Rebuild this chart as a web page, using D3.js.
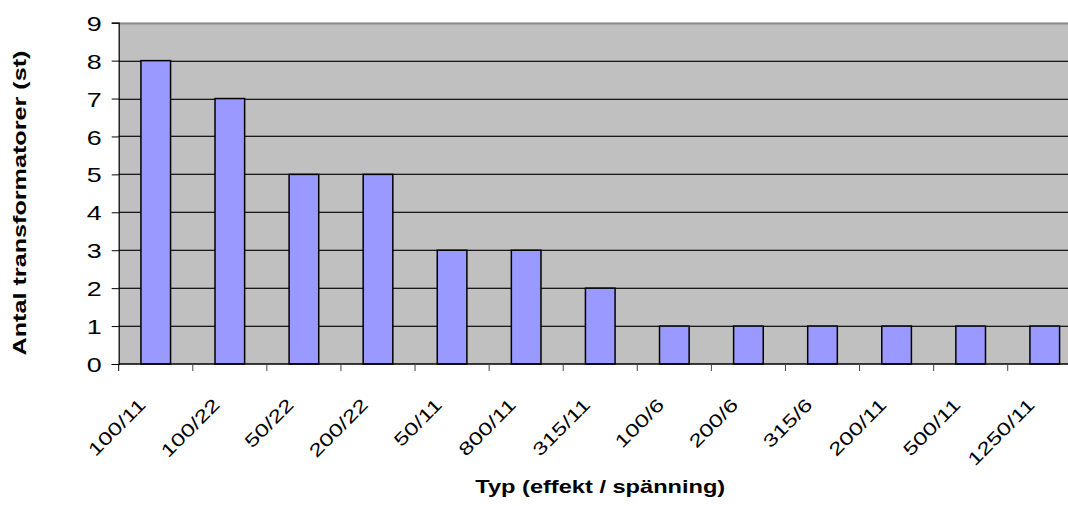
<!DOCTYPE html>
<html>
<head>
<meta charset="utf-8">
<script src="https://cdn.jsdelivr.net/npm/d3@7"></script>
<style>
  html, body { margin: 0; padding: 0; background: #fff; overflow: hidden; }
  svg { display: block; font-family: "Liberation Sans", Arial, sans-serif; }
</style>
</head>
<body>
<svg id="chart" width="1068" height="506"></svg>
<script>
// Transformer types (power kVA / voltage kV) and how many of each
const categories = ["100/11", "100/22", "50/22", "200/22", "50/11", "800/11", "315/11",
                    "100/6", "200/6", "315/6", "200/11", "500/11", "1250/11"];
const counts = [8, 7, 5, 5, 3, 3, 2, 1, 1, 1, 1, 1, 1];
const yTicks = [0, 1, 2, 3, 4, 5, 6, 7, 8, 9];
const xTitle = "Typ (effekt / spänning)";
const yTitle = "Antal transformatorer (st)";

// Text in this chart is set in a horizontally widened face
const WIDE = 1.35;

const svg = d3.select("#chart");
const plot = { left: 118.7, top: 22.7, right: 1081.8, bottom: 364 };

const x = d3.scaleBand()
  .domain(categories)
  .range([plot.left, plot.right])
  .paddingInner(0.6)
  .paddingOuter(0.3);

const y = d3.scaleLinear()
  .domain([0, 9])
  .range([plot.bottom, plot.top]);

// Plot background
svg.append("rect")
  .attr("x", plot.left)
  .attr("y", plot.top)
  .attr("width", plot.right - plot.left)
  .attr("height", plot.bottom - plot.top)
  .attr("fill", "#c0c0c0");

// Horizontal gridlines
const grid = svg.append("g");
grid.selectAll("line.shade")
  .data(yTicks.filter(d => d > 0 && d < 9))
  .join("line")
  .attr("class", "shade")
  .attr("x1", plot.left).attr("x2", plot.right)
  .attr("y1", d => Math.round(y(d)) - 0.5)
  .attr("y2", d => Math.round(y(d)) - 0.5)
  .attr("stroke", "#8a8a8a").attr("stroke-width", 1);
grid.selectAll("line.major")
  .data(yTicks.filter(d => d > 0 && d < 9))
  .join("line")
  .attr("class", "major")
  .attr("x1", plot.left).attr("x2", plot.right)
  .attr("y1", d => Math.round(y(d)) + 0.5)
  .attr("y2", d => Math.round(y(d)) + 0.5)
  .attr("stroke", "#1a1a1a").attr("stroke-width", 1);

// Top border of plot area
svg.append("line")
  .attr("x1", plot.left).attr("x2", plot.right)
  .attr("y1", Math.round(y(9)) + 0.5).attr("y2", Math.round(y(9)) + 0.5)
  .attr("stroke", "#8a8a8a")
  .attr("stroke-width", 2);

// Bars
svg.append("g")
  .selectAll("rect")
  .data(categories.map((c, i) => ({ c, v: counts[i] })))
  .join("rect")
  .attr("x", d => x(d.c))
  .attr("y", d => y(d.v))
  .attr("width", x.bandwidth())
  .attr("height", d => y(0) - y(d.v))
  .attr("fill", "#9999ff")
  .attr("stroke", "#000")
  .attr("stroke-width", 1.5);

// Y axis
const yAxis = d3.axisLeft(y)
  .tickValues(yTicks)
  .tickFormat(d3.format("d"))
  .tickSize(7)
  .tickPadding(8);

const gy = svg.append("g")
  .attr("transform", `translate(${plot.left},0)`)
  .call(yAxis);
gy.select(".domain").attr("stroke", "#000").attr("stroke-width", 1.2);
gy.selectAll(".tick line").attr("stroke", "#000");
gy.selectAll(".tick text")
  .attr("x", 0)
  .attr("dy", "0.36em")
  .attr("transform", `translate(-17,0) scale(1.28,1)`)
  .attr("font-size", 21)
  .attr("font-family", "Liberation Sans, Arial, sans-serif")
  .attr("fill", "#000");

// X axis: ticks at category boundaries
const boundaries = d3.range(categories.length + 1)
  .map(i => plot.left + i * (plot.right - plot.left) / categories.length);
const gx = svg.append("g");
gx.append("line")
  .attr("x1", plot.left).attr("x2", plot.right)
  .attr("y1", plot.bottom).attr("y2", plot.bottom)
  .attr("stroke", "#000").attr("stroke-width", 1.5);
gx.selectAll("line.tick")
  .data(boundaries)
  .join("line")
  .attr("class", "tick")
  .attr("x1", d => d).attr("x2", d => d)
  .attr("y1", plot.bottom).attr("y2", plot.bottom + 7)
  .attr("stroke", (d, i) => i === 0 ? "#000" : "#444")
  .attr("stroke-width", 1);

// Rotated category labels
gx.selectAll("text")
  .data(categories)
  .join("text")
  .attr("transform", d => `translate(${x(d) + x.bandwidth() / 2 - 9},${plot.bottom + 42}) rotate(-45) scale(${WIDE},1)`)
  .attr("text-anchor", "end")
  .attr("font-size", 18)
  .attr("fill", "#000")
  .text(d => d);

// Axis titles
svg.append("text")
  .attr("transform", `translate(${(plot.left + plot.right) / 2},493) scale(${WIDE},1)`)
  .attr("text-anchor", "middle")
  .attr("font-size", 17.5)
  .attr("font-weight", "bold")
  .text(xTitle);

svg.append("text")
  .attr("transform", `translate(26,203) rotate(-90) scale(1.4,1)`)
  .attr("text-anchor", "middle")
  .attr("font-size", 18)
  .attr("font-weight", "bold")
  .text(yTitle);
</script>
</body>
</html>
